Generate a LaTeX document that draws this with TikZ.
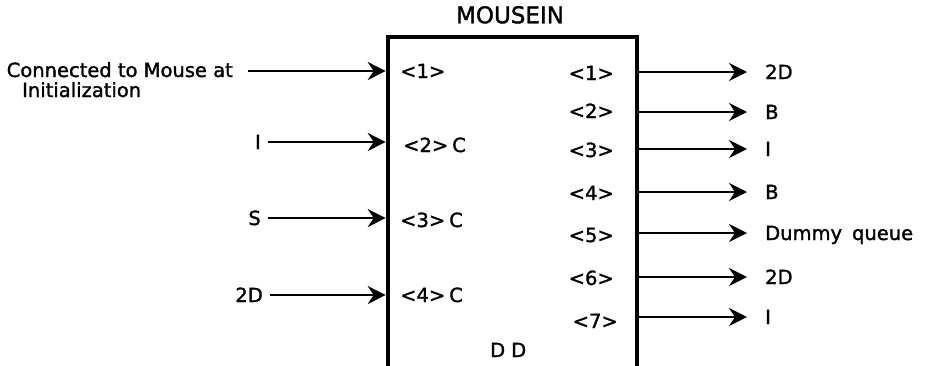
\documentclass[tikz,border=0pt]{standalone}
\usepackage{fontspec}
\setmainfont{DejaVu Sans}[FakeBold=1.5]
\usetikzlibrary{arrows.meta}

\begin{document}
\begin{tikzpicture}[x=1pt, y=-1pt,
  every node/.style={font=\fontsize{19.5}{23}\selectfont, inner sep=0pt,
                     text height=14pt, text depth=0pt},
  arr/.style={-{Stealth[length=18pt, width=18pt, inset=6pt]}, line width=1.6pt},
  frame/.style={line width=4.6pt}
]
  \useasboundingbox (0,0) rectangle (948,365);
  % ---- MOUSEIN module (open at the bottom) ----
  \coordinate (bl) at (388,367);  \coordinate (tl) at (388,37);
  \coordinate (tr) at (637,37);   \coordinate (br) at (637,367);
  \draw[frame] (bl) -- (tl) -- (tr) -- (br);
  \node[font=\fontsize{23}{27}\selectfont, text height=16.5pt] (title) at (510,15) {MOUSEIN};
  \node[anchor=west] (dd) at (490,350) {D\hspace{6pt}D};
  % ---- inputs (left) ----
  \node[anchor=east] (conn) at (233,70) {Connected to Mouse at};
  \node[anchor=west] (init) at (22,90) {Initialization};
  \node[anchor=east] (srcI)  at (261,142) {I};
  \node[anchor=east] (srcS)  at (261,218) {S};
  \node[anchor=east] (src2D) at (263,295) {2D};
  \coordinate (in1) at (388,71);  \coordinate (in2) at (388,142);
  \coordinate (in3) at (388,218); \coordinate (in4) at (388,295);
  \draw[arr, shorten <=15pt, shorten >=2.3pt] (conn.east |- in1) -- (in1);
  \draw[arr, shorten <=7pt, shorten >=2.3pt] (srcI.east) -- (in2);
  \draw[arr, shorten <=7pt, shorten >=2.3pt] (srcS.east) -- (in3);
  \draw[arr, shorten <=7pt, shorten >=2.3pt] (src2D.east) -- (in4);
  \node[anchor=west] (p1) at (400,71)  {<1>};
  \node[anchor=west] (p2) at (403,145) {<2>\hspace{4pt}C};
  \node[anchor=west] (p3) at (400,220) {<3>\hspace{4pt}C};
  \node[anchor=west] (p4) at (400,295) {<4>\hspace{4pt}C};
  % ---- outputs (right) ----
  \foreach \k/\y/\lab in {1/72/2D, 2/112/B, 3/149/I, 4/192/B, 5/233/Dummy\hspace{10pt}queue, 6/277/2D, 7/317/I} {
    \coordinate (out\k) at (637,\y);
    \node[anchor=west] (dst\k) at (765,\y) {\lab};
    \draw[arr, shorten >=18pt] (out\k) -- (dst\k.west);
  }
  \foreach \k/\y in {1/73, 2/111, 3/150, 4/193, 5/235, 6/278}
    \node[anchor=east] (q\k) at (614,\y) {<\k>};
  \node[anchor=east] (q7) at (618,321) {<7>};
\end{tikzpicture}
\end{document}
